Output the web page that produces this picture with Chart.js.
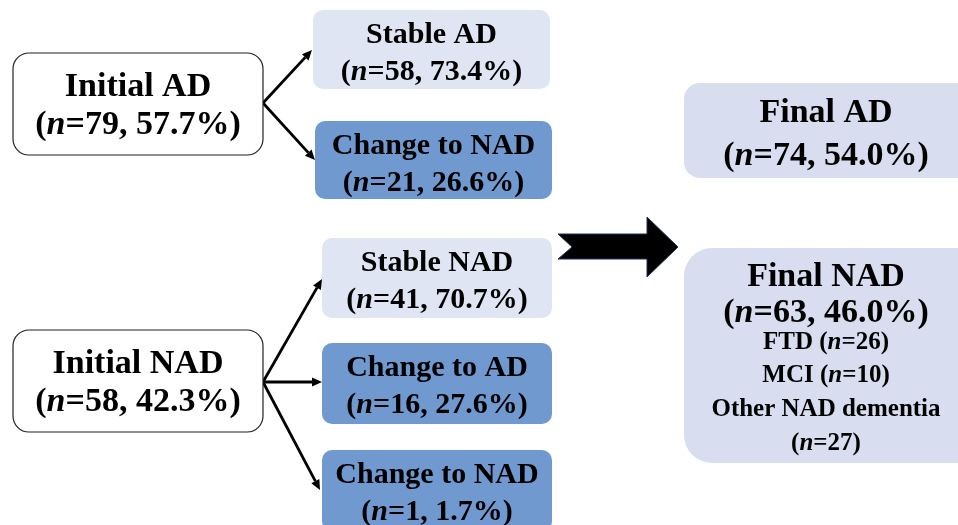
<!DOCTYPE html>
<html>
<head>
<meta charset="utf-8">
<script src="https://cdn.jsdelivr.net/npm/chart.js@4/dist/chart.umd.min.js"></script>
<style>
  html, body { margin: 0; padding: 0; background: #ffffff; }
  #wrap { width: 958px; height: 525px; overflow: hidden; }
</style>
</head>
<body>
<div id="wrap"><canvas id="c" width="958" height="525"></canvas></div>
<script>
// ---- data ----
const initialLabels = ['Initial AD', 'Initial NAD'];
const initialN = [79, 58];
const initialPct = [57.7, 42.3];

const outcomeLabels = ['Stable AD', 'Change to NAD', 'Stable NAD', 'Change to AD', 'Change to NAD'];
const outcomeN = [58, 21, 41, 16, 1];
const outcomePct = [73.4, 26.6, 70.7, 27.6, 1.7];
const outcomeParent = [0, 0, 1, 1, 1];
const outcomeStable = [true, false, true, false, false];

const finalLabels = ['Final AD', 'Final NAD'];
const finalN = [74, 63];
const finalPct = [54.0, 46.0];

const subtypeLabels = ['FTD', 'MCI', 'Other NAD dementia'];
const subtypeN = [26, 10, 27];

// ---- layout (scale units, separate from data) ----
const initialBox = [
  { x0: 13, y0: 53, x1: 263, y1: 155 },
  { x0: 13, y0: 330, x1: 263, y1: 432 }
];
const outcomeBox = [
  { x0: 313, y0: 10, x1: 550, y1: 89 },
  { x0: 315, y0: 121, x1: 552, y1: 199 },
  { x0: 322, y0: 238, x1: 552, y1: 318 },
  { x0: 322, y0: 343, x1: 552, y1: 424 },
  { x0: 322, y0: 450, x1: 552, y1: 531 }
];
const arrowEnds = [
  { x: 312, y: 50 }, { x: 315, y: 160 },
  { x: 322, y: 279 }, { x: 322, y: 382 }, { x: 320, y: 490 }
];
const arrowOrigins = [{ x: 263, y: 103 }, { x: 263, y: 382 }];
const finalBox = [
  { x0: 684, y0: 83, x1: 990, y1: 178 },
  { x0: 684, y0: 248, x1: 990, y1: 463 }
];

const FONT = '"Liberation Serif", "Times New Roman", serif';
const COL_LIGHT = '#dfe5f3';
const COL_FINAL = '#d8def0';
const COL_DARK = '#7099d0';

function fmtLine(n, pct) {
  return [{ t: '(' }, { t: 'n', it: true }, { t: '=' + n + ', ' + pct.toFixed(1) + '%)' }];
}
function fmtN(label, n) {
  return [{ t: label + ' (' }, { t: 'n', it: true }, { t: '=' + n + ')' }];
}

function roundRectPath(ctx, x0, y0, x1, y1, r) {
  ctx.beginPath();
  ctx.moveTo(x0 + r, y0);
  ctx.lineTo(x1 - r, y0);
  ctx.arcTo(x1, y0, x1, y0 + r, r);
  ctx.lineTo(x1, y1 - r);
  ctx.arcTo(x1, y1, x1 - r, y1, r);
  ctx.lineTo(x0 + r, y1);
  ctx.arcTo(x0, y1, x0, y1 - r, r);
  ctx.lineTo(x0, y0 + r);
  ctx.arcTo(x0, y0, x0 + r, y0, r);
  ctx.closePath();
}

function drawRuns(ctx, runs, cx, baseline, size) {
  const fonts = runs.map(r => (r.it ? 'italic bold ' : 'bold ') + size + 'px ' + FONT);
  let total = 0;
  const widths = runs.map((r, i) => { ctx.font = fonts[i]; const w = ctx.measureText(r.t).width; total += w; return w; });
  let x = cx - total / 2;
  ctx.textAlign = 'left';
  ctx.textBaseline = 'alphabetic';
  ctx.fillStyle = '#000000';
  runs.forEach((r, i) => { ctx.font = fonts[i]; ctx.fillText(r.t, x, baseline); x += widths[i]; });
}

function arrowLine(ctx, x0, y0, x1, y1) {
  const ang = Math.atan2(y1 - y0, x1 - x0);
  const head = 10, half = 4.5;
  const bx = x1 - head * Math.cos(ang), by = y1 - head * Math.sin(ang);
  ctx.strokeStyle = '#000';
  ctx.lineWidth = 2.8;
  ctx.beginPath();
  ctx.moveTo(x0, y0);
  ctx.lineTo(bx, by);
  ctx.stroke();
  ctx.fillStyle = '#000';
  ctx.beginPath();
  ctx.moveTo(x1, y1);
  ctx.lineTo(bx + half * Math.sin(ang), by - half * Math.cos(ang));
  ctx.lineTo(bx - half * Math.sin(ang), by + half * Math.cos(ang));
  ctx.closePath();
  ctx.fill();
}

const flowPlugin = {
  id: 'flow',
  afterDraw(chart) {
    const ctx = chart.ctx;
    const sx = chart.scales.x, sy = chart.scales.y;
    const X = v => sx.getPixelForValue(v);
    const Y = v => sy.getPixelForValue(v);
    ctx.save();

    // arrows from initial boxes to outcomes
    outcomeLabels.forEach((_, i) => {
      const o = arrowOrigins[outcomeParent[i]];
      const e = arrowEnds[i];
      arrowLine(ctx, X(o.x), Y(o.y), X(e.x), Y(e.y));
    });

    // initial boxes
    initialLabels.forEach((lab, i) => {
      const b = initialBox[i];
      roundRectPath(ctx, X(b.x0), Y(b.y0), X(b.x1), Y(b.y1), 16);
      ctx.fillStyle = '#ffffff';
      ctx.fill();
      ctx.strokeStyle = '#222222';
      ctx.lineWidth = 1.2;
      ctx.stroke();
      const cx = (X(b.x0) + X(b.x1)) / 2, cy = (Y(b.y0) + Y(b.y1)) / 2;
      drawRuns(ctx, [{ t: lab }], cx, cy - 8, 34);
      drawRuns(ctx, fmtLine(initialN[i], initialPct[i]), cx, cy + 30, 34);
    });

    // outcome boxes
    outcomeLabels.forEach((lab, i) => {
      const b = outcomeBox[i];
      roundRectPath(ctx, X(b.x0), Y(b.y0), X(b.x1), Y(b.y1), 10);
      ctx.fillStyle = outcomeStable[i] ? COL_LIGHT : COL_DARK;
      ctx.fill();
      const cx = (X(b.x0) + X(b.x1)) / 2, top = Y(b.y0);
      drawRuns(ctx, [{ t: lab }], cx, top + 33, 30);
      drawRuns(ctx, fmtLine(outcomeN[i], outcomePct[i]), cx, top + 70, 30);
    });

    // big block arrow
    ctx.beginPath();
    ctx.moveTo(X(558), Y(234));
    ctx.lineTo(X(647), Y(234));
    ctx.lineTo(X(647), Y(217));
    ctx.lineTo(X(678), Y(247));
    ctx.lineTo(X(647), Y(277));
    ctx.lineTo(X(647), Y(259));
    ctx.lineTo(X(558), Y(259));
    ctx.lineTo(X(572), Y(247));
    ctx.closePath();
    ctx.fillStyle = '#000000';
    ctx.fill();
    ctx.strokeStyle = '#1f2f55';
    ctx.lineWidth = 1;
    ctx.stroke();

    // final boxes
    const cx = X(826);
    const fa = finalBox[0];
    roundRectPath(ctx, X(fa.x0), Y(fa.y0), X(fa.x1), Y(fa.y1), 16);
    ctx.fillStyle = COL_FINAL;
    ctx.fill();
    drawRuns(ctx, [{ t: finalLabels[0] }], cx, Y(fa.y0) + 39, 34);
    drawRuns(ctx, fmtLine(finalN[0], finalPct[0]), cx, Y(fa.y0) + 82, 34);

    const fn = finalBox[1];
    roundRectPath(ctx, X(fn.x0), Y(fn.y0), X(fn.x1), Y(fn.y1), 28);
    ctx.fillStyle = COL_FINAL;
    ctx.fill();
    const t = Y(fn.y0);
    drawRuns(ctx, [{ t: finalLabels[1] }], cx, t + 38, 34);
    drawRuns(ctx, fmtLine(finalN[1], finalPct[1]), cx, t + 74, 34);
    drawRuns(ctx, fmtN(subtypeLabels[0], subtypeN[0]), cx, t + 101, 25);
    drawRuns(ctx, fmtN(subtypeLabels[1], subtypeN[1]), cx, t + 134, 25);
    drawRuns(ctx, [{ t: subtypeLabels[2] }], cx, t + 168, 25);
    drawRuns(ctx, [{ t: '(' }, { t: 'n', it: true }, { t: '=' + subtypeN[2] + ')' }], cx, t + 202, 25);

    ctx.restore();
  }
};

new Chart(document.getElementById('c'), {
  type: 'scatter',
  data: { datasets: [{ data: [], pointRadius: 0 }] },
  options: {
    responsive: false,
    animation: false,
    events: [],
    layout: { padding: 0 },
    plugins: { legend: { display: false }, tooltip: { enabled: false } },
    scales: {
      x: { type: 'linear', min: 0, max: 958, display: false },
      y: { type: 'linear', min: 0, max: 525, reverse: true, display: false }
    }
  },
  plugins: [flowPlugin]
});
</script>
</body>
</html>
